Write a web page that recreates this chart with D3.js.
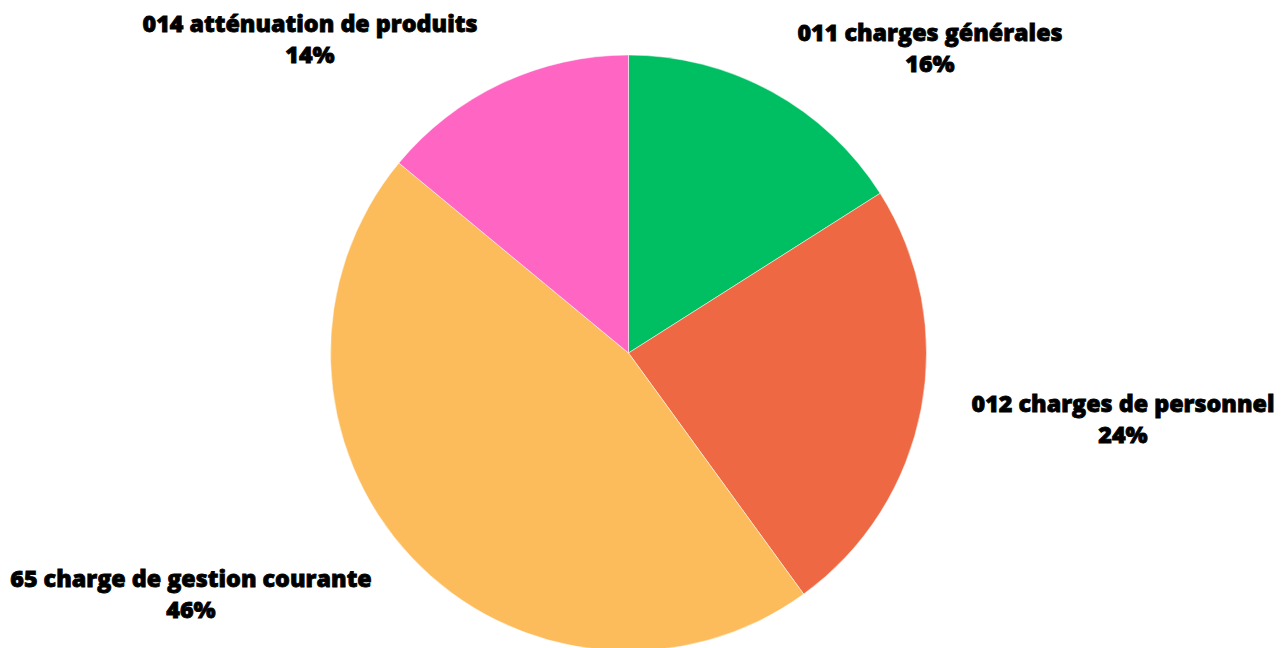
<!DOCTYPE html>
<html>
<head>
<meta charset="utf-8">
<script src="https://cdn.jsdelivr.net/npm/d3@7"></script>
<style>
  body { margin: 0; background: #fff; }
  svg text { font-family: 'Open Sans', sans-serif; font-weight: 800; font-size: 23.3px; fill: #000;
             stroke: #000; stroke-width: 0.8px; paint-order: stroke; }
</style>
</head>
<body>
<script>
// les données
const CATEGORIES = ['011 charges générales', '012 charges de personnel', '65 charge de gestion courante', '014 atténuation de produits']
const VALUES = [16, 24, 46, 14]
const COLORS = ['#00bf63', '#ed6843', '#fdbc5b', '#ff66c4']

// dimensions
const WIDTH = 1287
const HEIGHT = 648
const CX = 628.5
const CY = 353
const RADIUS = 298

// position des étiquettes (centre x, ligne de base de la première ligne)
const LABEL_POS = [[930, 41], [1123, 412], [191, 587], [310, 32]]
const LINE_GAP = 31

const svg = d3.select('body')
  .append('svg')
  .attr('width', WIDTH)
  .attr('height', HEIGHT)

const pie = d3.pie().sort(null).value(d => d)
const arc = d3.arc().innerRadius(0).outerRadius(RADIUS)

const g = svg.append('g').attr('transform', `translate(${CX},${CY})`)

g.selectAll('path')
  .data(pie(VALUES))
  .enter()
  .append('path')
  .attr('d', arc)
  .attr('fill', (d, i) => COLORS[i])
  .attr('stroke', '#fff')
  .attr('stroke-width', 0.5)

const labels = svg.selectAll('text.lbl')
  .data(CATEGORIES)
  .enter()
  .append('text')
  .attr('class', 'lbl')
  .attr('text-anchor', 'middle')
  .attr('x', (d, i) => LABEL_POS[i][0])
  .attr('y', (d, i) => LABEL_POS[i][1])

labels.append('tspan').text(d => d)
labels.append('tspan')
  .attr('x', (d, i) => LABEL_POS[i][0])
  .attr('dy', LINE_GAP)
  .text((d, i) => VALUES[i] + '%')
</script>
</body>
</html>
